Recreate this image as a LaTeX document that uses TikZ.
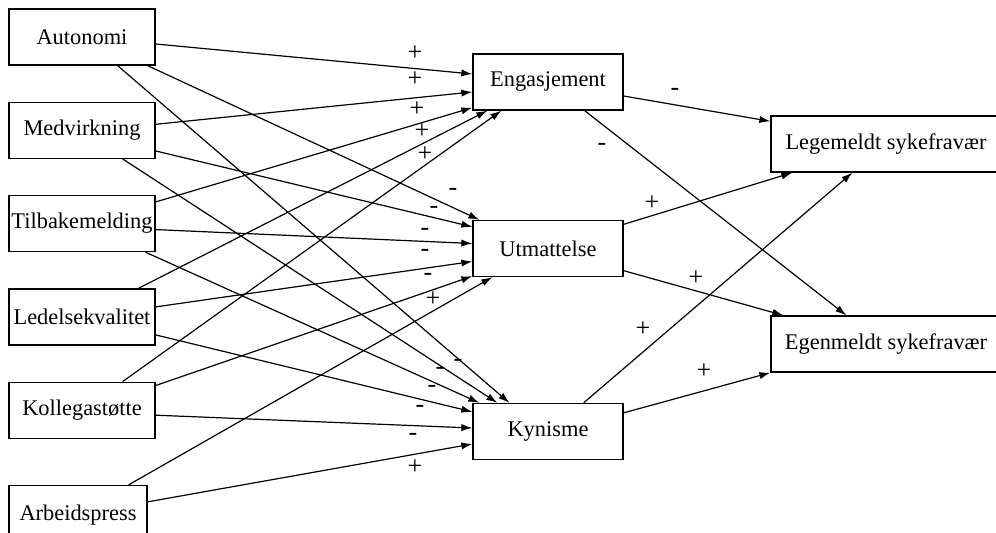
\documentclass[tikz,border=0pt]{standalone}
\usepackage{fontspec}
\setmainfont{Liberation Serif}
\usepackage{tikz}
\usetikzlibrary{positioning,calc,arrows.meta}

\begin{document}
\begin{tikzpicture}[x=0.5pt, y=-0.5pt, font=\fontsize{11.2}{13}\selectfont]
\tikzstyle{box}=[rectangle, draw=black, line width=0.65pt, minimum width=73pt, minimum height=28pt, inner xsep=1pt, node distance=18pt]
\tikzstyle{mid}=[rectangle, draw=black, line width=0.65pt, minimum width=75pt, minimum height=28pt]
\tikzstyle{wide}=[rectangle, draw=black, line width=0.65pt, minimum width=115pt, minimum height=28pt]
\tikzstyle{connect}=[-{Latex[length=5.5pt,width=3.6pt]}, line width=0.6pt]
\tikzstyle{sign}=[inner sep=0pt, font=\fontsize{13}{15}\selectfont]

% 1. Frame
%%%%%%%%%%
\useasboundingbox (0,0) rectangle (996,533);

% 2. Nodes
%%%%%%%%%%
\node[box] (auto) at (82,37) {Autonomi};
\node[box] (medv) [below=of auto] {Medvirkning};
\node[box] (tilb) [below=of medv] {Tilbakemelding};
\node[box] (lede) [below=of tilb] {Ledelsekvalitet};
\node[box] (koll) [below=of lede] {Kollegastøtte};
\node[box, minimum width=69pt, minimum height=30pt] (arb) [below=23pt of koll.south west, anchor=north west] {Arbeidspress};

\node[mid] (eng) at (548,82) {Engasjement};
\node[mid] (utm) at (548,248.5) {Utmattelse};
\node[mid] (kyn) at (548,431.5) {Kynisme};

\node[wide] (lege) at (886,144) {Legemeldt sykefravær};
\node[wide] (egen) at (886,344) {Egenmeldt sykefravær};

% 3. Arrows
%%%%%%%%%%%
\path ($(auto.east)+(0,7)$)         edge [connect] ($(eng.west)+(0,-8)$)
      ($(medv.east)+(0,-6)$)        edge [connect] ($(eng.west)+(0,10)$)
      ($(tilb.north east)+(0,7)$)   edge [connect] ($(eng.south west)+(0,-3)$)
      ($(lede.north east)+(-17,0)$) edge [connect] ($(eng.south west)+(15,0)$)
      ($(koll.north east)+(-33,0)$) edge [connect] ($(eng.south west)+(29,0)$);

\path ($(auto.south east)+(-8,0)$)  edge [connect] ($(utm.north west)+(7,0)$)
      ($(medv.south east)+(0,-8)$)  edge [connect] ($(utm.north west)+(0,7)$)
      ($(tilb.east)+(0,6)$)         edge [connect] ($(utm.west)+(0,-5)$)
      ($(lede.east)+(0,-10)$)       edge [connect] ($(utm.west)+(0,13)$)
      ($(koll.north east)+(0,4)$)   edge [connect] ($(utm.south west)+(0,-1)$)
      ($(arb.north east)+(-19,0)$)  edge [connect] ($(utm.south west)+(20,0)$);

\path ($(auto.south east)+(-38,0)$) edge [connect] ($(kyn.north west)+(37,0)$)
      ($(medv.south east)+(-33,0)$) edge [connect] ($(kyn.north west)+(25,0)$)
      ($(tilb.south east)+(-10,0)$) edge [connect] ($(kyn.north west)+(7,0)$)
      ($(lede.east)+(0,18)$)        edge [connect] ($(kyn.north west)+(0,9)$)
      ($(koll.east)+(0,5)$)         edge [connect] ($(kyn.west)+(0,-3.5)$)
      ($(arb.north east)+(0,17)$)   edge [connect] ($(kyn.west)+(0,12.5)$);

\path ($(eng.east)+(0,14)$)         edge [connect] ($(lege.north west)+(0,6)$)
      ($(eng.south east)+(-39,0)$)  edge [connect] ($(egen.north west)+(76,0)$)
      ($(utm.north east)+(0,4.5)$)  edge [connect] ($(lege.south west)+(22,0)$)
      ($(utm.south east)+(0,-6.5)$) edge [connect] ($(egen.north west)+(13,0)$)
      ($(kyn.north east)+(-40,0)$)  edge [connect] ($(lege.south west)+(82,0)$)
      ($(kyn.north east)+(0,10)$)   edge [connect] (egen.south west);

% 4. Signs
%%%%%%%%%%
\node[sign] (s1) at (415,53) {+};
\node[sign] (s2) at (415,79) {+};
\node[sign] (s3) at (417,109) {+};
\node[sign] (s4) at (422,131) {+};
\node[sign] (s5) at (425,154) {+};

\node[sign] (s6) at (453,192) {-};
\node[sign] (s7) at (434,210) {-};
\node[sign] (s8) at (425,232) {-};
\node[sign] (s9) at (425,253) {-};
\node[sign] (s10) at (428,277) {-};
\node[sign] (s11) at (433,299) {+};

\node[sign] (s12) at (458,363) {-};
\node[sign] (s13) at (440,371) {-};
\node[sign] (s14) at (432,389) {-};
\node[sign] (s15) at (420,409) {-};
\node[sign] (s16) at (413,437) {-};
\node[sign] (s17) at (415,467) {+};

\node[sign] (s18) at (675,92) {-};
\node[sign] (s19) at (602,147) {-};
\node[sign] (s20) at (652,203) {+};
\node[sign] (s21) at (696,278) {+};
\node[sign] (s22) at (643,329) {+};
\node[sign] (s23) at (704,371) {+};

\end{tikzpicture}
\end{document}
